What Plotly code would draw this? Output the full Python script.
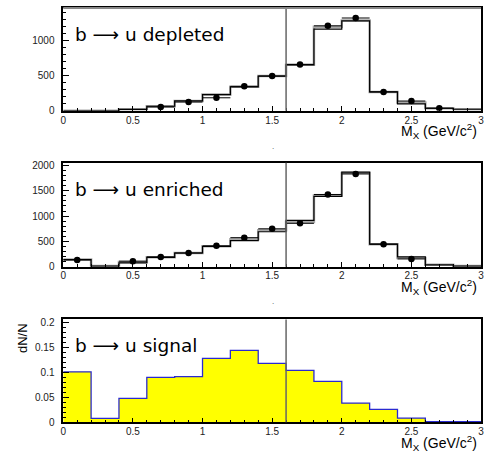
import plotly.graph_objects as go

W, H = 488, 461

# ---------------- data ----------------
bin_edges = [0.0, 0.2, 0.4, 0.6, 0.8, 1.0, 1.2, 1.4, 1.6, 1.8, 2.0, 2.2, 2.4, 2.6, 2.8, 3.0]
bin_centers = [0.1, 0.3, 0.5, 0.7, 0.9, 1.1, 1.3, 1.5, 1.7, 1.9, 2.1, 2.3, 2.5, 2.7, 2.9]

# panel 1: b -> u depleted
depl_mc = [0, 0, 22, 65, 140, 230, 340, 490, 650, 1157, 1273, 268, 100, 37, 23]
depl_band = [0, 0, 22, 65, 140, 230, 343, 492, 652, 1190, 1280, 268, 120, 37, 23]
depl_data = [None, None, None, 55, 125, 185, 347, 495, 657, 1204, 1315, 268, 139, 37, None]

# panel 2: b -> u enriched
enr_mc = [142, 13, 77, 187, 271, 400, 516, 691, 916, 1390, 1870, 445, 194, 39, 13]
enr_band = [142, 13, 95, 190, 271, 405, 545, 720, 885, 1405, 1850, 445, 175, 39, 13]
enr_data = [135, None, 110, 194, 271, 413, 574, 749, 858, 1427, 1833, 445, 155, None, None]

# panel 3: b -> u signal (dN/N)
sig = [0.101, 0.0078, 0.048, 0.090, 0.0915, 0.128, 0.144, 0.118, 0.104, 0.082, 0.0386, 0.026, 0.0086, 0.0013, 0.0013]

x_ticks = [0, 0.5, 1, 1.5, 2, 2.5, 3]
x_ticklabels = ["0", "0.5", "1", "1.5", "2", "2.5", "3"]
cut_value = 1.6

panel_titles = ["b ⟶ u depleted", "b ⟶ u enriched", "b ⟶ u signal"]
y_ranges = [[0, 1458], [0, 2052], [0, 0.206]]
y_dticks = [500, 500, 0.05]
y_minor = [100, 100, 0.01]

# ---------------- layout geometry (pixels) ----------------
x_left, x_right = 61, 484
panels_py = [(5, 110), (163, 269), (322.7, 427.7)]


def hist_xy(values):
    return bin_edges, list(values) + [values[-1]]


fig = go.Figure()

half_width = [0.1] * len(bin_centers)

# panel 1
xs, ys = hist_xy(depl_band)
fig.add_trace(go.Scatter(x=xs, y=ys, mode="lines", line=dict(shape="hv", color="#a8a8a8", width=2.5),
                         xaxis="x", yaxis="y", hoverinfo="skip"))
xs, ys = hist_xy(depl_mc)
fig.add_trace(go.Scatter(x=xs, y=ys, mode="lines", line=dict(shape="hv", color="black", width=1.2),
                         xaxis="x", yaxis="y"))
fig.add_trace(go.Scatter(x=bin_centers, y=depl_data, mode="markers",
                         marker=dict(color="black", size=6.5),
                         error_x=dict(type="data", array=half_width, color="black", thickness=1, width=0),
                         xaxis="x", yaxis="y"))

# panel 2
xs, ys = hist_xy(enr_band)
fig.add_trace(go.Scatter(x=xs, y=ys, mode="lines", line=dict(shape="hv", color="#a8a8a8", width=2.5),
                         xaxis="x2", yaxis="y2", hoverinfo="skip"))
xs, ys = hist_xy(enr_mc)
fig.add_trace(go.Scatter(x=xs, y=ys, mode="lines", line=dict(shape="hv", color="black", width=1.2),
                         xaxis="x2", yaxis="y2"))
fig.add_trace(go.Scatter(x=bin_centers, y=enr_data, mode="markers",
                         marker=dict(color="black", size=6.5),
                         error_x=dict(type="data", array=half_width, color="black", thickness=1, width=0),
                         xaxis="x2", yaxis="y2"))

# panel 3
xs, ys = hist_xy(sig)
fig.add_trace(go.Scatter(x=xs, y=ys, mode="lines", fill="tozeroy", fillcolor="#ffff00",
                         line=dict(shape="hv", color="#2a2ad0", width=1.3),
                         xaxis="x3", yaxis="y3"))

layout = dict(
    width=W, height=H, margin=dict(l=0, r=0, t=0, b=0),
    paper_bgcolor="white", plot_bgcolor="white", showlegend=False,
    font=dict(family="Liberation Sans, Arial, sans-serif", size=10, color="#222"),
)

shapes = []
annotations = []
for i, (ptop, pbot) in enumerate(panels_py):
    sfx = "" if i == 0 else str(i + 1)
    layout["xaxis" + sfx] = dict(
        domain=[x_left / W, x_right / W], range=[0, 3], anchor="y" + sfx,
        tickvals=x_ticks, ticktext=x_ticklabels, ticks="inside", ticklen=5, tickwidth=1,
        tickcolor="black", showline=True, linecolor="black", linewidth=1.5, mirror=True,
        showgrid=False, zeroline=False, ticklabelstandoff=-1,
        minor=dict(dtick=0.1, ticks="inside", ticklen=3, tickcolor="black", tickwidth=1, showgrid=False),
        tickfont=dict(size=10, color="#222"),
    )
    layout["yaxis" + sfx] = dict(
        domain=[1 - pbot / H, 1 - ptop / H], range=y_ranges[i], anchor="x" + sfx,
        dtick=y_dticks[i], tick0=0, ticks="inside", ticklen=6, tickwidth=1, tickcolor="black",
        showline=True, linecolor="black", linewidth=1.5, mirror=True,
        showgrid=False, zeroline=False, ticklabelstandoff=5,
        minor=dict(dtick=y_minor[i], ticks="inside", ticklen=3, tickcolor="black", tickwidth=1, showgrid=False),
        tickfont=dict(size=10, color="#222"),
    )
    # cut line
    shapes.append(dict(type="line", xref="x" + sfx, yref="y" + sfx + " domain",
                       x0=cut_value, x1=cut_value, y0=0, y1=1,
                       line=dict(color="#666666", width=1.5)))
    # panel label
    annotations.append(dict(text=panel_titles[i], xref="paper", yref="paper",
                            x=71 / W, y=1 - (ptop + 27) / H, xanchor="left", yanchor="middle",
                            showarrow=False, font=dict(family="DejaVu Sans", size=18.5, color="black")))
    # x title
    annotations.append(dict(text="M<sub>X</sub> (GeV/c<sup>2</sup>)", xref="paper", yref="paper",
                            x=482 / W, y=1 - (pbot + 21) / H, xanchor="right", yanchor="middle",
                            showarrow=False, font=dict(family="Liberation Sans, Arial", size=14, color="black")))

# gray top edge of first frame
shapes.append(dict(type="line", xref="paper", yref="paper", x0=x_left / W, x1=x_right / W,
                   y0=1 - panels_py[0][0] / H, y1=1 - panels_py[0][0] / H,
                   line=dict(color="#888888", width=2)))

annotations.append(dict(text="dN/N", xref="paper", yref="paper", x=20 / W, y=1 - 342 / H,
                        textangle=-90, showarrow=False, xanchor="center", yanchor="middle",
                        font=dict(family="Liberation Sans, Arial", size=13, color="black")))
for dy in (149, 307):
    annotations.append(dict(text=".", xref="paper", yref="paper", x=273 / W, y=1 - (dy - 3) / H,
                            showarrow=False, xanchor="center", yanchor="middle",
                            font=dict(size=8, color="#444")))

layout["shapes"] = shapes
layout["annotations"] = annotations
fig.update_layout(**layout)

fig.write_html("out.html")
